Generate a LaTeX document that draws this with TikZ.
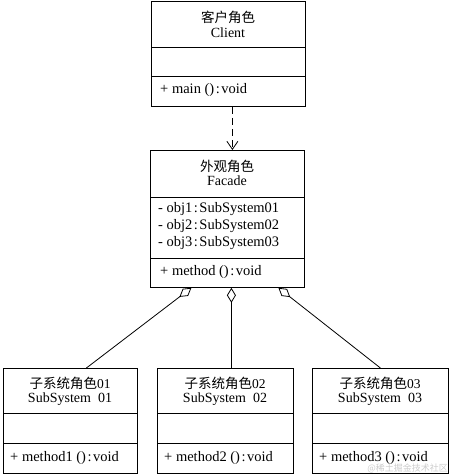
\documentclass[tikz,border=0pt]{standalone}
\usepackage{fontspec}
\setmainfont{Liberation Serif}
\newfontfamily\cjk{Noto Sans CJK SC}
\usetikzlibrary{arrows.meta}
\newcommand{\cln}{\kern1.5pt:\kern1.5pt}
\begin{document}
\begin{tikzpicture}[x=1pt,y=-1pt,
  cls/.style={draw, line width=0.8pt, rectangle, inner sep=0pt, anchor=north west},
  sepline/.style={line width=0.8pt},
  conn/.style={line width=0.8pt},
  ttl/.style={inner sep=0pt, anchor=mid, font=\fontsize{14}{16}\selectfont},
  cjkttl/.style={inner sep=0pt, anchor=center, font=\cjk\fontsize{13.5}{16}\selectfont},
  member/.style={inner sep=0pt, anchor=mid west, font=\fontsize{14.5}{16}\selectfont}
]
\useasboundingbox (0,0) rectangle (450,476);

% Client
\node[cls, minimum width=154pt, minimum height=105pt] (client) at (151,1) {};
\draw[sepline] (client.west |- 0,47) -- (client.east |- 0,47);
\draw[sepline] (client.west |- 0,76) -- (client.east |- 0,76);
\node[cjkttl] (clientcn) at (228,17) {客户角色};
\node[ttl] (clienten) at (228,35) {Client};
\node[member] (clientm) at (160,91) {+ main ()\cln void};

% Facade
\node[cls, minimum width=154pt, minimum height=137pt] (facade) at (150,150) {};
\draw[sepline] (facade.west |- 0,197) -- (facade.east |- 0,197);
\draw[sepline] (facade.west |- 0,258) -- (facade.east |- 0,258);
\node[cjkttl] (facadecn) at (227,166) {外观角色};
\node[ttl] (facadeen) at (227,183) {Facade};
\node[member] (fa1) at (158,210) {- obj1\cln SubSystem01};
\node[member] (fa2) at (158,227) {- obj2\cln SubSystem02};
\node[member] (fa3) at (158,244) {- obj3\cln SubSystem03};
\node[member] (fm) at (160,273) {+ method ()\cln void};

% Subsystems
\node[cls, minimum width=134pt, minimum height=105pt] (sub1) at (3,368) {};
\node[cls, minimum width=136pt, minimum height=105pt] (sub2) at (157,368) {};
\node[cls, minimum width=136pt, minimum height=105pt] (sub3) at (312,368) {};
\foreach \s in {sub1,sub2,sub3}{
  \draw[sepline] (\s.west |- 0,413) -- (\s.east |- 0,413);
  \draw[sepline] (\s.west |- 0,443) -- (\s.east |- 0,443);
}
\node[cjkttl] (s1cn) at (70,383) {子系统角色\rmfamily 01};
\node[ttl] (s1en) at (70,400) {SubSystem\ \ 01};
\node[member] (s1m) at (10,459) {+ method1 ()\cln void};
\node[cjkttl] (s2cn) at (225,383) {子系统角色\rmfamily 02};
\node[ttl] (s2en) at (225,400) {SubSystem\ \ 02};
\node[member] (s2m) at (164,459) {+ method2 ()\cln void};
\node[cjkttl] (s3cn) at (380,383) {子系统角色\rmfamily 03};
\node[ttl] (s3en) at (380,400) {SubSystem\ \ 03};
\node[member] (s3m) at (319,459) {+ method3 ()\cln void};

% Watermark
\node[inner sep=0pt, anchor=mid east, text=gray!40, font=\cjk\fontsize{9}{10}\selectfont] (wm) at (448,469.5) {@稀土掘金技术社区};

% Dependency
\draw[conn, dash pattern=on 7pt off 4pt, -{Straight Barb[length=8pt,width=11pt]}]
  ([xshift=4pt]client.south) -- ([xshift=5pt]facade.north);

% Aggregations
\coordinate (a1) at ([xshift=-36pt]facade.south);
\coordinate (a2) at ([xshift=4pt]facade.south);
\coordinate (a3) at ([xshift=51pt]facade.south);
\draw[conn, {Diamond[open,length=15pt,width=9pt]}-] (a1) -- ([xshift=16pt]sub1.north);
\draw[conn, {Diamond[open,length=15pt,width=9pt]}-] (a2) -- ([xshift=6pt]sub2.north);
\draw[conn, {Diamond[open,length=15pt,width=9pt]}-] (a3) -- (sub3.north);
\end{tikzpicture}
\end{document}
